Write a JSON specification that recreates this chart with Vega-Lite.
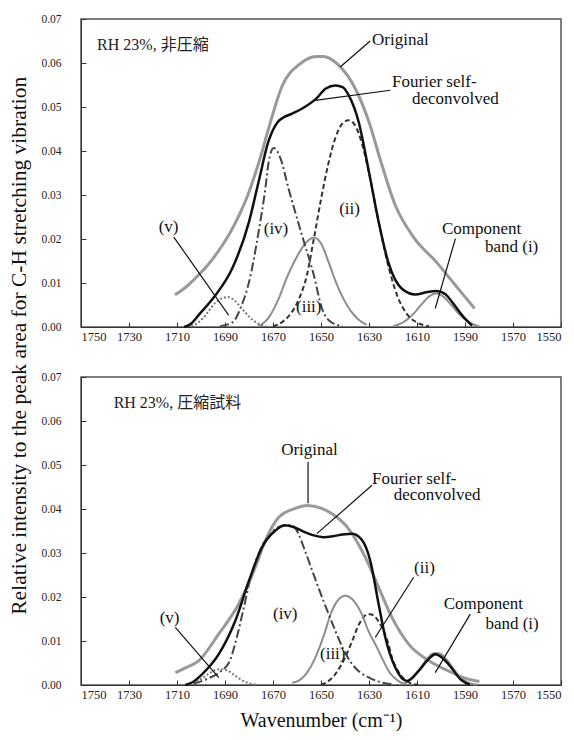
{
  "$schema": "https://vega.github.io/schema/vega-lite/v6.json",
  "padding": {"left": 8, "top": 12, "right": 5, "bottom": 5},
  "title": {"text": "Relative intensity to the peak area for C-H stretching vibration", "orient": "left", "anchor": "middle", "font": "Liberation Serif", "fontSize": 21.5, "fontWeight": "normal", "color": "#111", "offset": 10, "dx": 26},
  "config": {
    "view": {"stroke": "#555", "strokeWidth": 1.5},
    "axis": {"grid": false, "domainColor": "#333", "tickColor": "#333", "labelFont": "Liberation Serif", "labelColor": "#222", "tickSize": -5, "titleFont": "Liberation Serif", "titleFontWeight": "normal", "titleColor": "#111"},
    "text": {"font": "Liberation Serif", "fontSize": 17, "color": "#111"}
  },
  "datasets": {
    "curves": [
      {"panel": "A", "series": "orig", "wn": 1710.8, "v": 0.0073},
      {"panel": "A", "series": "orig", "wn": 1706, "v": 0.0092},
      {"panel": "A", "series": "orig", "wn": 1701, "v": 0.0118},
      {"panel": "A", "series": "orig", "wn": 1694, "v": 0.0163},
      {"panel": "A", "series": "orig", "wn": 1687, "v": 0.0223},
      {"panel": "A", "series": "orig", "wn": 1680, "v": 0.0307},
      {"panel": "A", "series": "orig", "wn": 1675, "v": 0.039},
      {"panel": "A", "series": "orig", "wn": 1672, "v": 0.0448},
      {"panel": "A", "series": "orig", "wn": 1666, "v": 0.055},
      {"panel": "A", "series": "orig", "wn": 1659, "v": 0.0597},
      {"panel": "A", "series": "orig", "wn": 1652, "v": 0.0615},
      {"panel": "A", "series": "orig", "wn": 1649, "v": 0.0615},
      {"panel": "A", "series": "orig", "wn": 1643, "v": 0.0597},
      {"panel": "A", "series": "orig", "wn": 1636, "v": 0.0545},
      {"panel": "A", "series": "orig", "wn": 1630, "v": 0.0466},
      {"panel": "A", "series": "orig", "wn": 1625, "v": 0.0375},
      {"panel": "A", "series": "orig", "wn": 1619, "v": 0.0276},
      {"panel": "A", "series": "orig", "wn": 1611, "v": 0.0201},
      {"panel": "A", "series": "orig", "wn": 1602, "v": 0.0148},
      {"panel": "A", "series": "orig", "wn": 1594, "v": 0.0095},
      {"panel": "A", "series": "orig", "wn": 1586, "v": 0.0042},

      {"panel": "A", "series": "fsd", "wn": 1707, "v": 0.0},
      {"panel": "A", "series": "fsd", "wn": 1704, "v": 0.0008},
      {"panel": "A", "series": "fsd", "wn": 1701, "v": 0.0027},
      {"panel": "A", "series": "fsd", "wn": 1694, "v": 0.0072},
      {"panel": "A", "series": "fsd", "wn": 1687, "v": 0.0133},
      {"panel": "A", "series": "fsd", "wn": 1680, "v": 0.0239},
      {"panel": "A", "series": "fsd", "wn": 1676, "v": 0.033},
      {"panel": "A", "series": "fsd", "wn": 1672, "v": 0.042},
      {"panel": "A", "series": "fsd", "wn": 1668, "v": 0.0466},
      {"panel": "A", "series": "fsd", "wn": 1666, "v": 0.0475},
      {"panel": "A", "series": "fsd", "wn": 1662, "v": 0.0485},
      {"panel": "A", "series": "fsd", "wn": 1658, "v": 0.0496},
      {"panel": "A", "series": "fsd", "wn": 1652, "v": 0.0519},
      {"panel": "A", "series": "fsd", "wn": 1648, "v": 0.0542},
      {"panel": "A", "series": "fsd", "wn": 1644, "v": 0.0549},
      {"panel": "A", "series": "fsd", "wn": 1641, "v": 0.0545},
      {"panel": "A", "series": "fsd", "wn": 1638.5, "v": 0.0527},
      {"panel": "A", "series": "fsd", "wn": 1634.3, "v": 0.0466},
      {"panel": "A", "series": "fsd", "wn": 1630, "v": 0.0352},
      {"panel": "A", "series": "fsd", "wn": 1626, "v": 0.0239},
      {"panel": "A", "series": "fsd", "wn": 1622, "v": 0.0148},
      {"panel": "A", "series": "fsd", "wn": 1616.3, "v": 0.0087},
      {"panel": "A", "series": "fsd", "wn": 1610.7, "v": 0.0074},
      {"panel": "A", "series": "fsd", "wn": 1606, "v": 0.0079},
      {"panel": "A", "series": "fsd", "wn": 1602, "v": 0.0082},
      {"panel": "A", "series": "fsd", "wn": 1598, "v": 0.0074},
      {"panel": "A", "series": "fsd", "wn": 1595.4, "v": 0.0057},
      {"panel": "A", "series": "fsd", "wn": 1590, "v": 0.0019},
      {"panel": "A", "series": "fsd", "wn": 1587, "v": 0.0003},

      {"panel": "A", "series": "i", "wn": 1620, "v": 0.0002},
      {"panel": "A", "series": "i", "wn": 1616, "v": 0.001},
      {"panel": "A", "series": "i", "wn": 1612, "v": 0.0027},
      {"panel": "A", "series": "i", "wn": 1608, "v": 0.0052},
      {"panel": "A", "series": "i", "wn": 1605, "v": 0.0069},
      {"panel": "A", "series": "i", "wn": 1602, "v": 0.0076},
      {"panel": "A", "series": "i", "wn": 1599, "v": 0.0069},
      {"panel": "A", "series": "i", "wn": 1596, "v": 0.0052},
      {"panel": "A", "series": "i", "wn": 1592, "v": 0.0027},
      {"panel": "A", "series": "i", "wn": 1588, "v": 0.001},
      {"panel": "A", "series": "i", "wn": 1584, "v": 0.0002},

      {"panel": "A", "series": "ii", "wn": 1670, "v": 0.0001},
      {"panel": "A", "series": "ii", "wn": 1666, "v": 0.0012},
      {"panel": "A", "series": "ii", "wn": 1662, "v": 0.0035},
      {"panel": "A", "series": "ii", "wn": 1659, "v": 0.0066},
      {"panel": "A", "series": "ii", "wn": 1656, "v": 0.0115},
      {"panel": "A", "series": "ii", "wn": 1653, "v": 0.02},
      {"panel": "A", "series": "ii", "wn": 1650, "v": 0.029},
      {"panel": "A", "series": "ii", "wn": 1647, "v": 0.037},
      {"panel": "A", "series": "ii", "wn": 1644, "v": 0.043},
      {"panel": "A", "series": "ii", "wn": 1641, "v": 0.0463},
      {"panel": "A", "series": "ii", "wn": 1638.5, "v": 0.047},
      {"panel": "A", "series": "ii", "wn": 1636, "v": 0.046},
      {"panel": "A", "series": "ii", "wn": 1633, "v": 0.0418},
      {"panel": "A", "series": "ii", "wn": 1630, "v": 0.035},
      {"panel": "A", "series": "ii", "wn": 1626, "v": 0.024},
      {"panel": "A", "series": "ii", "wn": 1622, "v": 0.014},
      {"panel": "A", "series": "ii", "wn": 1618, "v": 0.0068},
      {"panel": "A", "series": "ii", "wn": 1614, "v": 0.0028},
      {"panel": "A", "series": "ii", "wn": 1610, "v": 0.001},
      {"panel": "A", "series": "ii", "wn": 1605, "v": 0.0002},

      {"panel": "A", "series": "iii", "wn": 1676, "v": 0.0002},
      {"panel": "A", "series": "iii", "wn": 1672, "v": 0.002},
      {"panel": "A", "series": "iii", "wn": 1668, "v": 0.006},
      {"panel": "A", "series": "iii", "wn": 1664, "v": 0.0115},
      {"panel": "A", "series": "iii", "wn": 1660, "v": 0.016},
      {"panel": "A", "series": "iii", "wn": 1656, "v": 0.0193},
      {"panel": "A", "series": "iii", "wn": 1653, "v": 0.0203},
      {"panel": "A", "series": "iii", "wn": 1650, "v": 0.019},
      {"panel": "A", "series": "iii", "wn": 1647, "v": 0.015},
      {"panel": "A", "series": "iii", "wn": 1644, "v": 0.0105},
      {"panel": "A", "series": "iii", "wn": 1641, "v": 0.0068},
      {"panel": "A", "series": "iii", "wn": 1638, "v": 0.004},
      {"panel": "A", "series": "iii", "wn": 1635, "v": 0.002},
      {"panel": "A", "series": "iii", "wn": 1631, "v": 0.0005},

      {"panel": "A", "series": "iv", "wn": 1692, "v": 0.0002},
      {"panel": "A", "series": "iv", "wn": 1687, "v": 0.001},
      {"panel": "A", "series": "iv", "wn": 1683, "v": 0.005},
      {"panel": "A", "series": "iv", "wn": 1680, "v": 0.0102},
      {"panel": "A", "series": "iv", "wn": 1676, "v": 0.0216},
      {"panel": "A", "series": "iv", "wn": 1673.2, "v": 0.0314},
      {"panel": "A", "series": "iv", "wn": 1671.8, "v": 0.0375},
      {"panel": "A", "series": "iv", "wn": 1669.7, "v": 0.0407},
      {"panel": "A", "series": "iv", "wn": 1667, "v": 0.0385},
      {"panel": "A", "series": "iv", "wn": 1663.5, "v": 0.0314},
      {"panel": "A", "series": "iv", "wn": 1657.9, "v": 0.0208},
      {"panel": "A", "series": "iv", "wn": 1653, "v": 0.0118},
      {"panel": "A", "series": "iv", "wn": 1649.6, "v": 0.0042},
      {"panel": "A", "series": "iv", "wn": 1646, "v": 0.0012},
      {"panel": "A", "series": "iv", "wn": 1641, "v": 0.0002},

      {"panel": "A", "series": "v", "wn": 1704, "v": 0.0002},
      {"panel": "A", "series": "v", "wn": 1700, "v": 0.0015},
      {"panel": "A", "series": "v", "wn": 1697, "v": 0.0035},
      {"panel": "A", "series": "v", "wn": 1694, "v": 0.0055},
      {"panel": "A", "series": "v", "wn": 1691, "v": 0.0066},
      {"panel": "A", "series": "v", "wn": 1689, "v": 0.0068},
      {"panel": "A", "series": "v", "wn": 1686, "v": 0.006},
      {"panel": "A", "series": "v", "wn": 1683, "v": 0.0042},
      {"panel": "A", "series": "v", "wn": 1680, "v": 0.0024},
      {"panel": "A", "series": "v", "wn": 1677, "v": 0.001},
      {"panel": "A", "series": "v", "wn": 1673, "v": 0.0002},

      {"panel": "B", "series": "orig", "wn": 1710.7, "v": 0.0028},
      {"panel": "B", "series": "orig", "wn": 1706, "v": 0.004},
      {"panel": "B", "series": "orig", "wn": 1701, "v": 0.0055},
      {"panel": "B", "series": "orig", "wn": 1692.6, "v": 0.0116},
      {"panel": "B", "series": "orig", "wn": 1684.3, "v": 0.0184},
      {"panel": "B", "series": "orig", "wn": 1677.4, "v": 0.0267},
      {"panel": "B", "series": "orig", "wn": 1673.2, "v": 0.0328},
      {"panel": "B", "series": "orig", "wn": 1667.6, "v": 0.0381},
      {"panel": "B", "series": "orig", "wn": 1661, "v": 0.0401},
      {"panel": "B", "series": "orig", "wn": 1655.5, "v": 0.0408},
      {"panel": "B", "series": "orig", "wn": 1650, "v": 0.0402},
      {"panel": "B", "series": "orig", "wn": 1645.4, "v": 0.0389},
      {"panel": "B", "series": "orig", "wn": 1638.5, "v": 0.0355},
      {"panel": "B", "series": "orig", "wn": 1631.5, "v": 0.029},
      {"panel": "B", "series": "orig", "wn": 1626, "v": 0.0222},
      {"panel": "B", "series": "orig", "wn": 1620.4, "v": 0.0153},
      {"panel": "B", "series": "orig", "wn": 1613.5, "v": 0.0093},
      {"panel": "B", "series": "orig", "wn": 1605, "v": 0.0055},
      {"panel": "B", "series": "orig", "wn": 1597, "v": 0.0032},
      {"panel": "B", "series": "orig", "wn": 1588.5, "v": 0.0013},
      {"panel": "B", "series": "orig", "wn": 1584, "v": 0.0008},

      {"panel": "B", "series": "fsd", "wn": 1706.5, "v": 0.0},
      {"panel": "B", "series": "fsd", "wn": 1703, "v": 0.0008},
      {"panel": "B", "series": "fsd", "wn": 1699.6, "v": 0.0024},
      {"panel": "B", "series": "fsd", "wn": 1692.6, "v": 0.007},
      {"panel": "B", "series": "fsd", "wn": 1685.7, "v": 0.0146},
      {"panel": "B", "series": "fsd", "wn": 1680, "v": 0.0237},
      {"panel": "B", "series": "fsd", "wn": 1674.6, "v": 0.0313},
      {"panel": "B", "series": "fsd", "wn": 1669, "v": 0.0351},
      {"panel": "B", "series": "fsd", "wn": 1665, "v": 0.0363},
      {"panel": "B", "series": "fsd", "wn": 1661, "v": 0.0358},
      {"panel": "B", "series": "fsd", "wn": 1657, "v": 0.0348},
      {"panel": "B", "series": "fsd", "wn": 1653, "v": 0.034},
      {"panel": "B", "series": "fsd", "wn": 1649, "v": 0.0336},
      {"panel": "B", "series": "fsd", "wn": 1645, "v": 0.0338},
      {"panel": "B", "series": "fsd", "wn": 1641, "v": 0.0342},
      {"panel": "B", "series": "fsd", "wn": 1637, "v": 0.0344},
      {"panel": "B", "series": "fsd", "wn": 1633, "v": 0.033},
      {"panel": "B", "series": "fsd", "wn": 1629.5, "v": 0.0283},
      {"panel": "B", "series": "fsd", "wn": 1626, "v": 0.0184},
      {"panel": "B", "series": "fsd", "wn": 1623.2, "v": 0.0108},
      {"panel": "B", "series": "fsd", "wn": 1619, "v": 0.0039},
      {"panel": "B", "series": "fsd", "wn": 1614.2, "v": 0.0009},
      {"panel": "B", "series": "fsd", "wn": 1609.3, "v": 0.0032},
      {"panel": "B", "series": "fsd", "wn": 1605, "v": 0.006},
      {"panel": "B", "series": "fsd", "wn": 1602.4, "v": 0.007},
      {"panel": "B", "series": "fsd", "wn": 1599.5, "v": 0.0062},
      {"panel": "B", "series": "fsd", "wn": 1596.8, "v": 0.0047},
      {"panel": "B", "series": "fsd", "wn": 1591.3, "v": 0.001},
      {"panel": "B", "series": "fsd", "wn": 1588, "v": 0.0001},

      {"panel": "B", "series": "i", "wn": 1616, "v": 0.0002},
      {"panel": "B", "series": "i", "wn": 1612, "v": 0.0015},
      {"panel": "B", "series": "i", "wn": 1609, "v": 0.0035},
      {"panel": "B", "series": "i", "wn": 1606, "v": 0.0058},
      {"panel": "B", "series": "i", "wn": 1603, "v": 0.0072},
      {"panel": "B", "series": "i", "wn": 1601, "v": 0.0072},
      {"panel": "B", "series": "i", "wn": 1598, "v": 0.006},
      {"panel": "B", "series": "i", "wn": 1595, "v": 0.0038},
      {"panel": "B", "series": "i", "wn": 1592, "v": 0.0018},
      {"panel": "B", "series": "i", "wn": 1588, "v": 0.0004},
      {"panel": "B", "series": "i", "wn": 1585, "v": 0.0001},

      {"panel": "B", "series": "ii", "wn": 1650, "v": 0.0001},
      {"panel": "B", "series": "ii", "wn": 1648, "v": 0.0005},
      {"panel": "B", "series": "ii", "wn": 1644, "v": 0.0025},
      {"panel": "B", "series": "ii", "wn": 1640, "v": 0.0062},
      {"panel": "B", "series": "ii", "wn": 1637, "v": 0.01},
      {"panel": "B", "series": "ii", "wn": 1634, "v": 0.014},
      {"panel": "B", "series": "ii", "wn": 1631, "v": 0.016},
      {"panel": "B", "series": "ii", "wn": 1629.5, "v": 0.0161},
      {"panel": "B", "series": "ii", "wn": 1627, "v": 0.0152},
      {"panel": "B", "series": "ii", "wn": 1624.6, "v": 0.0131},
      {"panel": "B", "series": "ii", "wn": 1622, "v": 0.0095},
      {"panel": "B", "series": "ii", "wn": 1620.4, "v": 0.0062},
      {"panel": "B", "series": "ii", "wn": 1618, "v": 0.0033},
      {"panel": "B", "series": "ii", "wn": 1616, "v": 0.0017},
      {"panel": "B", "series": "ii", "wn": 1613, "v": 0.0005},
      {"panel": "B", "series": "ii", "wn": 1610, "v": 0.0001},

      {"panel": "B", "series": "iii", "wn": 1662, "v": 0.0005},
      {"panel": "B", "series": "iii", "wn": 1658, "v": 0.0015},
      {"panel": "B", "series": "iii", "wn": 1655, "v": 0.0035},
      {"panel": "B", "series": "iii", "wn": 1652.4, "v": 0.0062},
      {"panel": "B", "series": "iii", "wn": 1649, "v": 0.011},
      {"panel": "B", "series": "iii", "wn": 1645.4, "v": 0.0169},
      {"panel": "B", "series": "iii", "wn": 1642, "v": 0.0198},
      {"panel": "B", "series": "iii", "wn": 1640, "v": 0.0203},
      {"panel": "B", "series": "iii", "wn": 1637, "v": 0.0195},
      {"panel": "B", "series": "iii", "wn": 1633, "v": 0.0161},
      {"panel": "B", "series": "iii", "wn": 1630, "v": 0.012},
      {"panel": "B", "series": "iii", "wn": 1627.4, "v": 0.0093},
      {"panel": "B", "series": "iii", "wn": 1624, "v": 0.0055},
      {"panel": "B", "series": "iii", "wn": 1621.8, "v": 0.0032},
      {"panel": "B", "series": "iii", "wn": 1618, "v": 0.001},
      {"panel": "B", "series": "iii", "wn": 1615, "v": 0.0002},

      {"panel": "B", "series": "iv", "wn": 1703, "v": 0.0003},
      {"panel": "B", "series": "iv", "wn": 1697, "v": 0.0015},
      {"panel": "B", "series": "iv", "wn": 1692, "v": 0.003},
      {"panel": "B", "series": "iv", "wn": 1688, "v": 0.0055},
      {"panel": "B", "series": "iv", "wn": 1685, "v": 0.011},
      {"panel": "B", "series": "iv", "wn": 1682, "v": 0.018},
      {"panel": "B", "series": "iv", "wn": 1679, "v": 0.025},
      {"panel": "B", "series": "iv", "wn": 1675, "v": 0.031},
      {"panel": "B", "series": "iv", "wn": 1670, "v": 0.035},
      {"panel": "B", "series": "iv", "wn": 1666, "v": 0.0362},
      {"panel": "B", "series": "iv", "wn": 1662, "v": 0.0363},
      {"panel": "B", "series": "iv", "wn": 1659.5, "v": 0.0345},
      {"panel": "B", "series": "iv", "wn": 1657, "v": 0.031},
      {"panel": "B", "series": "iv", "wn": 1652, "v": 0.0235},
      {"panel": "B", "series": "iv", "wn": 1646, "v": 0.015},
      {"panel": "B", "series": "iv", "wn": 1641, "v": 0.0085},
      {"panel": "B", "series": "iv", "wn": 1638, "v": 0.0055},
      {"panel": "B", "series": "iv", "wn": 1634, "v": 0.003},
      {"panel": "B", "series": "iv", "wn": 1630, "v": 0.0017},
      {"panel": "B", "series": "iv", "wn": 1625, "v": 0.0006},
      {"panel": "B", "series": "iv", "wn": 1620, "v": 0.0001},

      {"panel": "B", "series": "v", "wn": 1705, "v": 0.0002},
      {"panel": "B", "series": "v", "wn": 1701, "v": 0.001},
      {"panel": "B", "series": "v", "wn": 1697, "v": 0.0025},
      {"panel": "B", "series": "v", "wn": 1694, "v": 0.0034},
      {"panel": "B", "series": "v", "wn": 1692, "v": 0.0036},
      {"panel": "B", "series": "v", "wn": 1689, "v": 0.0033},
      {"panel": "B", "series": "v", "wn": 1686, "v": 0.0022},
      {"panel": "B", "series": "v", "wn": 1683, "v": 0.0011},
      {"panel": "B", "series": "v", "wn": 1680, "v": 0.0004},
      {"panel": "B", "series": "v", "wn": 1677, "v": 0.0001}
    ],
    "leaders": [
      {"panel": "A", "wn": 1642, "wn2": 1629.5, "v": 0.0591, "v2": 0.065},
      {"panel": "A", "wn": 1652.4, "wn2": 1621.1, "v": 0.0515, "v2": 0.0538},
      {"panel": "A", "wn": 1594, "wn2": 1602.4, "v": 0.0201, "v2": 0.0042},
      {"panel": "A", "wn": 1711.4, "wn2": 1688.5, "v": 0.0205, "v2": 0.0027},
      {"panel": "B", "wn": 1655.4, "wn2": 1655.4, "v": 0.0507, "v2": 0.0413},
      {"panel": "B", "wn": 1651.7, "wn2": 1628.75, "v": 0.0344, "v2": 0.0454},
      {"panel": "B", "wn": 1611.4, "wn2": 1627.4, "v": 0.0245, "v2": 0.0108},
      {"panel": "B", "wn": 1587.8, "wn2": 1602.4, "v": 0.0161, "v2": 0.0028},
      {"panel": "B", "wn": 1710.7, "wn2": 1692.6, "v": 0.0131, "v2": 0.0017}
    ],
    "labelsLeft": [
      {"panel": "A", "label": "Original", "wn": 1628.75, "v": 0.0652},
      {"panel": "A", "label": "Fourier self-", "wn": 1620.4, "v": 0.0557},
      {"panel": "A", "label": "deconvolved", "wn": 1612.1, "v": 0.0518},
      {"panel": "A", "label": "Component", "wn": 1599.6, "v": 0.0223},
      {"panel": "A", "label": "band (i)", "wn": 1581.7, "v": 0.0182},
      {"panel": "B", "label": "Fourier self-", "wn": 1628.75, "v": 0.0469},
      {"panel": "B", "label": "deconvolved", "wn": 1619.7, "v": 0.0431},
      {"panel": "B", "label": "Component", "wn": 1598.9, "v": 0.0184},
      {"panel": "B", "label": "band (i)", "wn": 1581.5, "v": 0.0138}
    ],
    "labelsCenter": [
      {"panel": "A", "label": "(ii)", "wn": 1638.1, "v": 0.0268},
      {"panel": "A", "label": "(iii)", "wn": 1655.1, "v": 0.0045},
      {"panel": "A", "label": "(iv)", "wn": 1668.75, "v": 0.0223},
      {"panel": "A", "label": "(v)", "wn": 1713.5, "v": 0.0227},
      {"panel": "B", "label": "Original", "wn": 1654.8, "v": 0.0534},
      {"panel": "B", "label": "(ii)", "wn": 1606.9, "v": 0.0267},
      {"panel": "B", "label": "(iii)", "wn": 1645.1, "v": 0.007},
      {"panel": "B", "label": "(iv)", "wn": 1664.9, "v": 0.0161},
      {"panel": "B", "label": "(v)", "wn": 1713.1, "v": 0.0153}
    ],
    "panelTitles": [
      {"panel": "A", "label": "RH 23%, 非圧縮", "wn": 1743.3, "v": 0.0642},
      {"panel": "B", "label": "RH 23%, 圧縮試料", "wn": 1736.4, "v": 0.064}
    ]
  },
  "spacing": 26,
  "vconcat": [
    {
      "width": 480, "height": 308,
      "layer": [
        {"data": {"name": "curves"}, "transform": [{"filter": "datum.panel === 'A' && datum.series !== 'orig' && datum.series !== 'fsd'"}],
         "mark": {"type": "line", "interpolate": "monotone"},
         "encoding": {
           "x": {"field": "wn", "type": "quantitative", "scale": {"domain": [1550, 1750], "reverse": true, "nice": false}, "axis": {"values": [1550,1570,1590,1610,1630,1650,1670,1690,1710,1730,1750], "format": "d", "title": null, "labelFont": "Liberation Serif", "labelFontSize": 12.5, "labelPadding": 8}},
           "y": {"field": "v", "type": "quantitative", "scale": {"domain": [0, 0.07], "nice": false}, "axis": {"values": [0,0.01,0.02,0.03,0.04,0.05,0.06,0.07], "format": ".2f", "title": null, "labelFont": "Liberation Serif", "labelFontSize": 11.5, "labelPadding": 25}},
           "color": {"field": "series", "type": "nominal", "scale": {"domain": ["i","ii","iii","iv","v"], "range": ["#8c8c8c","#333333","#8c8c8c","#444444","#777777"]}, "legend": null},
           "strokeDash": {"field": "series", "type": "nominal", "scale": {"domain": ["i","ii","iii","iv","v"], "range": [[1,0],[5,3],[1,0],[9,3,2,3],[2,2]]}, "legend": null},
           "strokeWidth": {"field": "series", "type": "nominal", "scale": {"domain": ["i","ii","iii","iv","v"], "range": [2,2,2,1.8,1.8]}, "legend": null}
         }},
        {"data": {"name": "curves"}, "transform": [{"filter": "datum.panel === 'A' && datum.series === 'orig'"}],
         "mark": {"type": "line", "interpolate": "monotone", "color": "#999999", "strokeWidth": 3},
         "encoding": {"x": {"field": "wn", "type": "quantitative"}, "y": {"field": "v", "type": "quantitative"}}},
        {"data": {"name": "curves"}, "transform": [{"filter": "datum.panel === 'A' && datum.series === 'fsd'"}],
         "mark": {"type": "line", "interpolate": "monotone", "color": "#111111", "strokeWidth": 2.5},
         "encoding": {"x": {"field": "wn", "type": "quantitative"}, "y": {"field": "v", "type": "quantitative"}}},
        {"data": {"name": "leaders"}, "transform": [{"filter": "datum.panel === 'A'"}],
         "mark": {"type": "rule", "color": "#111111", "strokeWidth": 1.2},
         "encoding": {"x": {"field": "wn", "type": "quantitative"}, "x2": {"field": "wn2"}, "y": {"field": "v", "type": "quantitative"}, "y2": {"field": "v2"}}},
        {"data": {"name": "labelsLeft"}, "transform": [{"filter": "datum.panel === 'A'"}],
         "mark": {"type": "text", "align": "left", "baseline": "middle", "font": "Liberation Serif", "fontSize": 17, "color": "#111"},
         "encoding": {"x": {"field": "wn", "type": "quantitative"}, "y": {"field": "v", "type": "quantitative"}, "text": {"field": "label"}}},
        {"data": {"name": "labelsCenter"}, "transform": [{"filter": "datum.panel === 'A'"}],
         "mark": {"type": "text", "align": "center", "baseline": "middle", "font": "Liberation Serif", "fontSize": 17, "color": "#111"},
         "encoding": {"x": {"field": "wn", "type": "quantitative"}, "y": {"field": "v", "type": "quantitative"}, "text": {"field": "label"}}},
        {"data": {"name": "panelTitles"}, "transform": [{"filter": "datum.panel === 'A'"}],
         "mark": {"type": "text", "align": "left", "baseline": "middle", "font": "Liberation Serif, Noto Sans CJK JP", "fontSize": 16, "color": "#222"},
         "encoding": {"x": {"field": "wn", "type": "quantitative"}, "y": {"field": "v", "type": "quantitative"}, "text": {"field": "label"}}}
      ]
    },
    {
      "width": 480, "height": 308,
      "layer": [
        {"data": {"name": "curves"}, "transform": [{"filter": "datum.panel === 'B' && datum.series !== 'orig' && datum.series !== 'fsd'"}],
         "mark": {"type": "line", "interpolate": "monotone"},
         "encoding": {
           "x": {"field": "wn", "type": "quantitative", "scale": {"domain": [1550, 1750], "reverse": true, "nice": false}, "axis": {"values": [1550,1570,1590,1610,1630,1650,1670,1690,1710,1730,1750], "format": "d", "title": "Wavenumber (cm⁻¹)", "titleFont": "Liberation Serif", "titleFontWeight": "normal", "titleFontSize": 20, "titlePadding": 10, "labelFont": "Liberation Serif", "labelFontSize": 12.5, "labelPadding": 8}},
           "y": {"field": "v", "type": "quantitative", "scale": {"domain": [0, 0.07], "nice": false}, "axis": {"values": [0,0.01,0.02,0.03,0.04,0.05,0.06,0.07], "format": ".2f", "title": null, "labelFont": "Liberation Serif", "labelFontSize": 11.5, "labelPadding": 25}},
           "color": {"field": "series", "type": "nominal", "scale": {"domain": ["i","ii","iii","iv","v"], "range": ["#8c8c8c","#333333","#8c8c8c","#444444","#777777"]}, "legend": null},
           "strokeDash": {"field": "series", "type": "nominal", "scale": {"domain": ["i","ii","iii","iv","v"], "range": [[1,0],[5,3],[1,0],[9,3,2,3],[2,2]]}, "legend": null},
           "strokeWidth": {"field": "series", "type": "nominal", "scale": {"domain": ["i","ii","iii","iv","v"], "range": [2,2,2,1.8,1.8]}, "legend": null}
         }},
        {"data": {"name": "curves"}, "transform": [{"filter": "datum.panel === 'B' && datum.series === 'orig'"}],
         "mark": {"type": "line", "interpolate": "monotone", "color": "#999999", "strokeWidth": 3},
         "encoding": {"x": {"field": "wn", "type": "quantitative"}, "y": {"field": "v", "type": "quantitative"}}},
        {"data": {"name": "curves"}, "transform": [{"filter": "datum.panel === 'B' && datum.series === 'fsd'"}],
         "mark": {"type": "line", "interpolate": "monotone", "color": "#111111", "strokeWidth": 2.5},
         "encoding": {"x": {"field": "wn", "type": "quantitative"}, "y": {"field": "v", "type": "quantitative"}}},
        {"data": {"name": "leaders"}, "transform": [{"filter": "datum.panel === 'B'"}],
         "mark": {"type": "rule", "color": "#111111", "strokeWidth": 1.2},
         "encoding": {"x": {"field": "wn", "type": "quantitative"}, "x2": {"field": "wn2"}, "y": {"field": "v", "type": "quantitative"}, "y2": {"field": "v2"}}},
        {"data": {"name": "labelsLeft"}, "transform": [{"filter": "datum.panel === 'B'"}],
         "mark": {"type": "text", "align": "left", "baseline": "middle", "font": "Liberation Serif", "fontSize": 17, "color": "#111"},
         "encoding": {"x": {"field": "wn", "type": "quantitative"}, "y": {"field": "v", "type": "quantitative"}, "text": {"field": "label"}}},
        {"data": {"name": "labelsCenter"}, "transform": [{"filter": "datum.panel === 'B'"}],
         "mark": {"type": "text", "align": "center", "baseline": "middle", "font": "Liberation Serif", "fontSize": 17, "color": "#111"},
         "encoding": {"x": {"field": "wn", "type": "quantitative"}, "y": {"field": "v", "type": "quantitative"}, "text": {"field": "label"}}},
        {"data": {"name": "panelTitles"}, "transform": [{"filter": "datum.panel === 'B'"}],
         "mark": {"type": "text", "align": "left", "baseline": "middle", "font": "Liberation Serif, Noto Sans CJK JP", "fontSize": 16, "color": "#222"},
         "encoding": {"x": {"field": "wn", "type": "quantitative"}, "y": {"field": "v", "type": "quantitative"}, "text": {"field": "label"}}}
      ]
    }
  ]
}
